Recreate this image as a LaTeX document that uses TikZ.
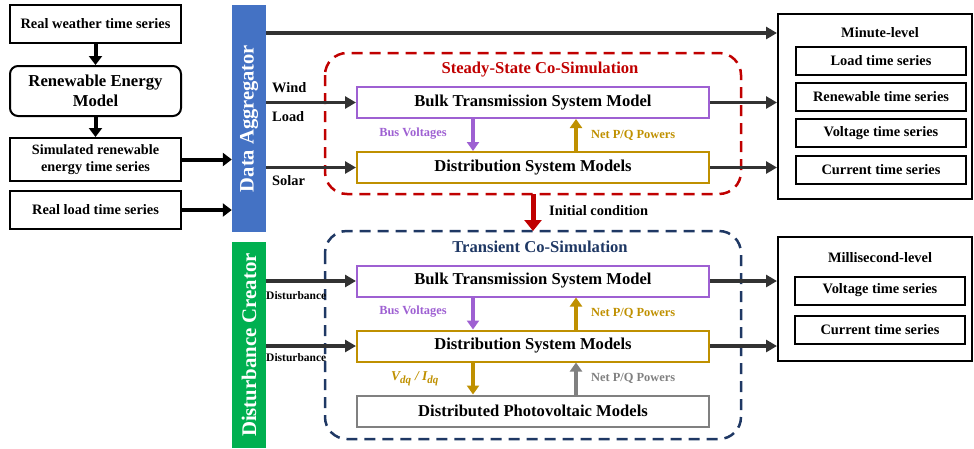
\documentclass[tikz,border=0pt]{standalone}
\usepackage{fontspec}
\setmainfont{Liberation Serif}
\usetikzlibrary{arrows.meta,calc}
\definecolor{dablue}{HTML}{4472C4}
\definecolor{dcgreen}{HTML}{00B050}
\definecolor{ssred}{HTML}{C00000}
\definecolor{tsnavy}{HTML}{1F3864}
\definecolor{bpurple}{RGB}{158,96,210}
\definecolor{dgold}{RGB}{191,144,0}
\definecolor{pvgray}{RGB}{128,128,128}
\definecolor{dline}{RGB}{50,50,50}
\newcommand{\fs}[1]{\fontsize{#1}{#1}\selectfont}
\newcommand{\fsl}[2]{\fontsize{#1}{#2}\selectfont}
\begin{document}
\begin{tikzpicture}[x=1pt,y=-1pt,
  box/.style={draw=black, line width=2pt, fill=white, inner sep=0pt, align=center, font=\bfseries\fs{14.4}},
  mbox/.style={draw=#1, line width=2pt, fill=white, inner sep=0pt, minimum width=352pt, minimum height=31pt, font=\bfseries\fs{16.6}},
  conn/.style={line width=3.5pt, draw=dline, -{Triangle[length=11pt,width=12pt]}},
  thick conn/.style={line width=4pt, draw=black, -{Triangle[length=9pt,width=13pt]}},
  vconn/.style={line width=3.5pt, draw=#1, -{Triangle[length=9pt,width=12pt]}},
  lbl/.style={font=\bfseries\fs{14.4}, inner sep=0pt},
  slbl/.style={font=\bfseries\fs{12.4}, inner sep=0pt, text=#1},
  ttl/.style={font=\bfseries\fs{16.6}, inner sep=0pt, text=#1},
]
\useasboundingbox (0,0) rectangle (974,448);

% left column
\node[box, minimum width=171pt, minimum height=38pt] (rw) at (95.5,24) {Real weather time series};
\node[box, rounded corners=8pt, minimum width=171pt, minimum height=50pt, font=\bfseries\fsl{16.7}{19.5}, align=center] (rem) at (95.5,91) {Renewable Energy\\Model};
\node[box, minimum width=171pt, minimum height=43pt, font=\bfseries\fsl{14.2}{16.5}] (sim) at (95.5,159.5) {Simulated renewable\\energy time series};
\node[box, minimum width=171pt, minimum height=38pt] (rl) at (95.5,210) {Real load time series};

\draw[thick conn] (rw) -- (rem);
\draw[thick conn] (rem) -- (sim);

% aggregator and disturbance creator
\node[fill=dablue, minimum width=34pt, minimum height=227pt, inner sep=0pt] (da) at (249,118.5) {};
\node[rotate=90, text=white, font=\bfseries\fs{20.5}] at (da.center) {Data Aggregator};
\node[fill=dcgreen, minimum width=34pt, minimum height=206pt, inner sep=0pt] (dc) at (249,345) {};
\node[rotate=90, text=white, font=\bfseries\fs{20.8}] at (dc.center) {Disturbance Creator};

\draw[thick conn] (sim.east) -- (sim.east -| da.west);
\draw[thick conn] (rl.east) -- (rl.east -| da.west);

% steady-state co-simulation
\draw[ssred, line width=2.5pt, dash pattern=on 11pt off 7pt, rounded corners=22pt] (325,53) rectangle (741,194);
\node[ttl=ssred] (sst) at (540,70) {Steady-State Co-Simulation};
\node[mbox=bpurple] (bt1) at (533,102.5) {Bulk Transmission System Model};
\node[mbox=dgold] (ds1) at (533,167.5) {Distribution System Models};

% transient co-simulation
\draw[tsnavy, line width=2.5pt, dash pattern=on 11pt off 7pt, rounded corners=22pt] (325,231) rectangle (741,439);
\node[ttl=tsnavy] (tst) at (540,247) {Transient Co-Simulation};
\node[mbox=bpurple] (bt2) at (533,281) {Bulk Transmission System Model};
\node[mbox=dgold] (ds2) at (533,346) {Distribution System Models};
\node[mbox=pvgray] (pv) at (533,411) {Distributed Photovoltaic Models};

% output boxes
\node[draw=black, line width=2pt, minimum width=194pt, minimum height=185pt, inner sep=0pt] (mn) at (875,106.5) {};
\node[lbl] (mnt) at (880,33) {Minute-level};
\node[box, minimum width=170pt, minimum height=28pt] (o1) at (881,61) {Load time series};
\node[box, minimum width=170pt, minimum height=28pt] (o2) at (881,97) {Renewable time series};
\node[box, minimum width=170pt, minimum height=28pt] (o3) at (881,133) {Voltage time series};
\node[box, minimum width=170pt, minimum height=28pt] (o4) at (881,170) {Current time series};

\node[draw=black, line width=2pt, minimum width=194pt, minimum height=124pt, inner sep=0pt] (ms) at (875,299) {};
\node[lbl] (mst) at (880,258) {Millisecond-level};
\node[box, minimum width=170pt, minimum height=28pt] (p1) at (880,290.5) {Voltage time series};
\node[box, minimum width=170pt, minimum height=28pt] (p2) at (880,330) {Current time series};

% coordinates for vertical arrows
\coordinate (xa) at (473,0);
\coordinate (xb) at (576,0);
\coordinate (xc) at (533,0);
\coordinate (ytop) at (0,33);

% connectors from aggregator
\draw[conn] (da.east |- ytop) -- (mn.west |- ytop);
\draw[conn] (da.east |- bt1.west) -- (bt1.west);
\draw[conn] (da.east |- ds1.west) -- (ds1.west);
\draw[conn] (bt1.east) -- (mn.west |- bt1.east);
\draw[conn] (ds1.east) -- (mn.west |- ds1.east);

\node[lbl, anchor=west] at (272,88) {Wind};
\node[lbl, anchor=west] at (272,117) {Load};
\node[lbl, anchor=west] at (272,181) {Solar};

% inner steady-state arrows
\draw[vconn=bpurple] (bt1.south -| xa) -- (ds1.north -| xa);
\draw[vconn=dgold] (ds1.north -| xb) -- (bt1.south -| xb);
\node[slbl=bpurple] at (413,134) {Bus Voltages};
\node[slbl=dgold, anchor=west] at (591,135) {Net P/Q Powers};

% initial condition
\draw[line width=5pt, draw=ssred, -{Triangle[length=11pt,width=17pt]}] (xc |- 0,194) -- (xc |- 0,231);
\node[lbl, anchor=west] at (549,211) {Initial condition};

% disturbance
\draw[conn] (dc.east |- bt2.west) -- (bt2.west);
\draw[conn] (dc.east |- ds2.west) -- (ds2.west);
\node[font=\bfseries\fs{11.5}, inner sep=0pt, anchor=west] at (266,296) {Disturbance};
\node[font=\bfseries\fs{11.5}, inner sep=0pt, anchor=west] at (266,358) {Disturbance};

\draw[conn] (bt2.east) -- (ms.west |- bt2.east);
\draw[conn] (ds2.east) -- (ms.west |- ds2.east);

% inner transient arrows
\draw[vconn=bpurple] (bt2.south -| xa) -- (ds2.north -| xa);
\draw[vconn=dgold] (ds2.north -| xb) -- (bt2.south -| xb);
\draw[vconn=dgold] (ds2.south -| xa) -- (pv.north -| xa);
\draw[vconn=pvgray] (pv.north -| xb) -- (ds2.south -| xb);
\node[slbl=bpurple] at (413,312) {Bus Voltages};
\node[slbl=dgold, anchor=west] at (591,313) {Net P/Q Powers};
\node[slbl=pvgray, anchor=west] at (591,378) {Net P/Q Powers};
\node[slbl=dgold, font=\bfseries\itshape\fs{13.5}] at (415,379) {V\textsubscript{\fs{11}dq} / I\textsubscript{\fs{11}dq}};
\end{tikzpicture}
\end{document}
